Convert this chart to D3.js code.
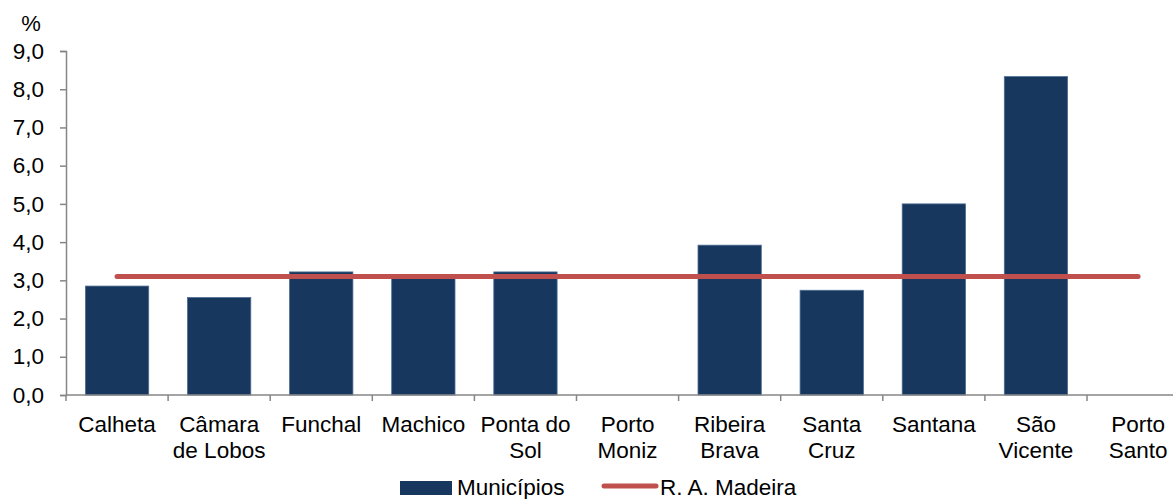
<!DOCTYPE html>
<html>
<head>
<meta charset="utf-8">
<script src="https://cdn.jsdelivr.net/npm/d3@7"></script>
<style>
  body { margin: 0; background: #fff; }
  svg { display: block; font-family: Arial, "Liberation Sans", sans-serif; }
</style>
</head>
<body>
<script>
// data
const municipios = ['Calheta', 'Câmara de Lobos', 'Funchal', 'Machico', 'Ponta do Sol',
  'Porto Moniz', 'Ribeira Brava', 'Santa Cruz', 'Santana', 'São Vicente', 'Porto Santo'];
const labelLines = [['Calheta'], ['Câmara', 'de Lobos'], ['Funchal'], ['Machico'], ['Ponta do', 'Sol'],
  ['Porto', 'Moniz'], ['Ribeira', 'Brava'], ['Santa', 'Cruz'], ['Santana'], ['São', 'Vicente'], ['Porto', 'Santo']];
const valores = [2.85, 2.55, 3.22, 3.1, 3.22, null, 3.92, 2.74, 5.0, 8.33, null];
const madeira = 3.1;
const yTicks = [0, 1, 2, 3, 4, 5, 6, 7, 8, 9];
const legendNames = ['Municípios', 'R. A. Madeira'];

const width = 1173, height = 499;
const fs = 22.5;
const barColor = '#17375e', lineColor = '#c0504d', axisColor = '#868686';

const svg = d3.select('body').append('svg')
  .attr('width', width)
  .attr('height', height);

const x = d3.scaleBand()
  .domain(municipios)
  .range([66, 66 + 11 * 102.1])
  .paddingInner(0.38)
  .paddingOuter(0.19);

const y = d3.scaleLinear().domain([0, 9]).range([395, 51]);

// y axis
const yAxis = svg.append('g')
  .attr('transform', 'translate(66,0)')
  .call(d3.axisLeft(y).tickValues(yTicks).tickSize(6).tickPadding(16)
    .tickFormat(d => d3.format('.1f')(d).replace('.', ',')));
yAxis.select('.domain').attr('stroke', axisColor).attr('stroke-width', 1.5);
yAxis.selectAll('.tick line').attr('stroke', axisColor).attr('stroke-width', 1.5);
yAxis.selectAll('.tick text').attr('font-size', fs).attr('fill', '#000')
  .attr('font-family', 'Arial, "Liberation Sans", sans-serif');

svg.append('text')
  .attr('x', 31).attr('y', 31)
  .attr('text-anchor', 'middle')
  .attr('font-size', 22)
  .text('%');

// bars
svg.selectAll('.bar')
  .data(municipios.map((m, i) => ({m, v: valores[i]})).filter(d => d.v != null))
  .enter().append('rect')
  .attr('class', 'bar')
  .attr('x', d => x(d.m))
  .attr('width', x.bandwidth())
  .attr('y', d => y(d.v))
  .attr('height', d => y(0) - y(d.v))
  .attr('fill', barColor)
  .attr('stroke', '#4d6d93')
  .attr('stroke-width', 0.8);

// x axis with ticks between categories
const gap = (x.step() - x.bandwidth()) / 2;
const bounds = municipios.map(m => x(m) - gap).concat([x(municipios[municipios.length - 1]) + x.bandwidth() + gap]);
svg.append('line')
  .attr('x1', 66).attr('x2', bounds[bounds.length - 1])
  .attr('y1', y(0)).attr('y2', y(0))
  .attr('stroke', axisColor).attr('stroke-width', 1.5);
svg.selectAll('.xtick')
  .data(bounds)
  .enter().append('line')
  .attr('x1', d => d).attr('x2', d => d)
  .attr('y1', y(0)).attr('y2', y(0) + 6)
  .attr('stroke', axisColor).attr('stroke-width', 1.5);

const lbl = svg.selectAll('.xlabel')
  .data(municipios)
  .enter().append('text')
  .attr('class', 'xlabel')
  .attr('text-anchor', 'middle')
  .attr('font-size', fs);
lbl.selectAll('tspan')
  .data((d, i) => labelLines[i].map(t => ({t, c: x(d) + x.bandwidth() / 2})))
  .enter().append('tspan')
  .attr('x', d => d.c)
  .attr('y', (d, j) => 432 + j * 26)
  .text(d => d.t);

// regional average line
const first = municipios[0], last = municipios[municipios.length - 1];
svg.append('line')
  .attr('x1', x(first) + x.bandwidth() / 2)
  .attr('x2', x(last) + x.bandwidth() / 2)
  .attr('y1', y(madeira)).attr('y2', y(madeira))
  .attr('stroke', lineColor).attr('stroke-width', 5)
  .attr('stroke-linecap', 'round');

// legend (nudged up a little so the text is not cut at the bottom edge)
const lg = svg.append('g').attr('transform', 'translate(0,-5)');
lg.append('rect')
  .attr('x', 400).attr('y', 486).attr('width', 52).attr('height', 14)
  .attr('fill', barColor);
lg.append('text')
  .attr('x', 457).attr('y', 500).attr('font-size', fs)
  .text(legendNames[0]);
lg.append('line')
  .attr('x1', 604).attr('x2', 656).attr('y1', 491).attr('y2', 491)
  .attr('stroke', lineColor).attr('stroke-width', 5)
  .attr('stroke-linecap', 'round');
lg.append('text')
  .attr('x', 660).attr('y', 500).attr('font-size', fs)
  .text(legendNames[1]);
</script>
</body>
</html>
